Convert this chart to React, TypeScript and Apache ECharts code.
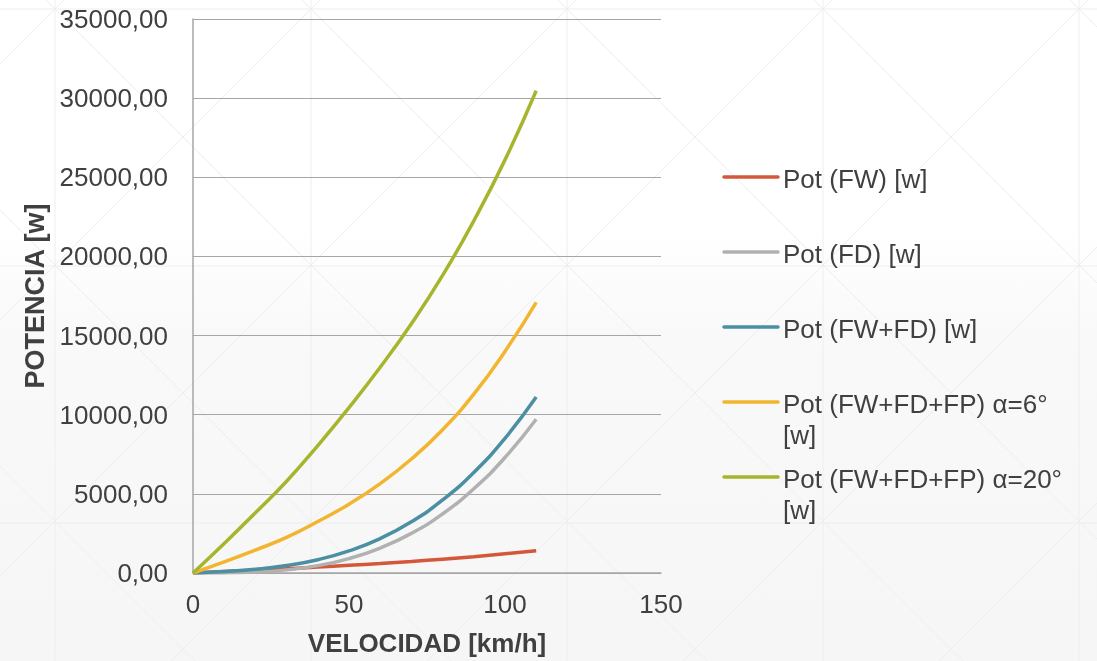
import React, { useEffect, useRef } from "react";
import * as echarts from "echarts";

const speed = [0, 10, 20, 30, 40, 50, 60, 70, 80, 90, 100, 110];
const potFW = [0, 90, 180, 275, 375, 485, 600, 730, 875, 1030, 1210, 1400];
const potFD = [0, 7, 58, 197, 467, 912, 1577, 2504, 3738, 5322, 7300, 9713];
const potFWFD = [0, 97, 238, 472, 842, 1397, 2177, 3234, 4613, 6352, 8510, 11113];
const potA6 = [0, 700, 1450, 2250, 3250, 4350, 5650, 7200, 9050, 11300, 14000, 17100];
const potA20 = [0, 1870, 3800, 5800, 8050, 10450, 13000, 15750, 18800, 22250, 26100, 30470];

const seriesNames = [
  "Pot (FW) [w]",
  "Pot (FD) [w]",
  "Pot (FW+FD) [w]",
  "Pot (FW+FD+FP) α=6° [w]",
  "Pot (FW+FD+FP) α=20° [w]",
];
const seriesValues = [potFW, potFD, potFWFD, potA6, potA20];
const seriesColors = ["#D4573A", "#B1B1B1", "#4B8FA2", "#F2B530", "#A7B52C"];

const FONT = "'Liberation Sans', Arial, sans-serif";
const TEXT_COLOR = "#404040";

function buildBackground(W: number, H: number) {
  const els: any[] = [];
  els.push({
    type: "rect",
    z: -100,
    silent: true,
    shape: { x: 0, y: 0, width: W, height: H },
    style: {
      fill: {
        type: "linear",
        x: 0,
        y: 0,
        x2: 0,
        y2: 1,
        colorStops: [
          { offset: 0, color: "#ffffff" },
          { offset: 0.35, color: "#ffffff" },
          { offset: 0.5, color: "#f9f9f9" },
          { offset: 1, color: "#f6f6f6" },
        ],
      },
    },
  });
  const patColor = "#eeeeee";
  const vx = [55, 311, 567, 823, 1079];
  const hy = [9, 266, 523];
  vx.forEach((x) =>
    els.push({
      type: "line",
      z: -99,
      silent: true,
      shape: { x1: x, y1: 0, x2: x, y2: H },
      style: { stroke: patColor, lineWidth: 1 },
    })
  );
  hy.forEach((y) =>
    els.push({
      type: "line",
      z: -99,
      silent: true,
      shape: { x1: 0, y1: y, x2: W, y2: y },
      style: { stroke: patColor, lineWidth: 1 },
    })
  );
  for (let k = -4; k <= 6; k++) {
    const c = 55 + 256 * k;
    els.push({
      type: "line",
      z: -99,
      silent: true,
      shape: { x1: c - 1200, y1: 9 - 1200, x2: c + 1200, y2: 9 + 1200 },
      style: { stroke: patColor, lineWidth: 1 },
    });
    els.push({
      type: "line",
      z: -99,
      silent: true,
      shape: { x1: c - 1200, y1: 9 + 1200, x2: c + 1200, y2: 9 - 1200 },
      style: { stroke: patColor, lineWidth: 1 },
    });
  }
  return els;
}

function buildLegend() {
  const els: any[] = [];
  const x0 = 724;
  const lineLen = 54;
  const y0 = 177;
  const step = 75;
  seriesNames.forEach((name, i) => {
    const y = y0 + i * step;
    els.push({
      type: "line",
      silent: true,
      shape: { x1: x0, y1: y, x2: x0 + lineLen, y2: y },
      style: { stroke: seriesColors[i], lineWidth: 3.5, lineCap: "round" },
    });
    const label = name.length > 18 ? name.replace(/ \[w\]$/, "\n[w]") : name;
    els.push({
      type: "text",
      silent: true,
      x: x0 + lineLen + 5,
      y: y - 14,
      style: {
        text: label,
        fill: TEXT_COLOR,
        font: `26px ${FONT}`,
        lineHeight: 31,
        verticalAlign: "top",
        align: "left",
      },
    });
  });
  return els;
}

export default function App() {
  const ref = useRef<HTMLDivElement>(null);
  useEffect(() => {
    if (!ref.current) return;
    const chart = echarts.init(ref.current, undefined, { renderer: "svg" });
    const W = 1097;
    const H = 661;
    chart.setOption({
      animation: false,
      textStyle: { fontFamily: FONT },
      grid: { left: 193, top: 19, right: 436, bottom: 86, containLabel: false },
      xAxis: {
        type: "value",
        min: 0,
        max: 150,
        interval: 50,
        name: "VELOCIDAD [km/h]",
        nameLocation: "middle",
        nameGap: 57,
        nameTextStyle: { fontSize: 26, fontWeight: "bold", color: TEXT_COLOR, fontFamily: FONT },
        axisLine: { show: true, lineStyle: { color: "#a6a6a6", width: 1.5 } },
        axisTick: { show: false },
        splitLine: { show: false },
        axisLabel: { fontSize: 26, color: TEXT_COLOR, margin: 18, fontFamily: FONT },
      },
      yAxis: {
        type: "value",
        min: 0,
        max: 35000,
        interval: 5000,
        name: "POTENCIA [w]",
        nameLocation: "middle",
        nameGap: 145,
        nameTextStyle: { fontSize: 27, fontWeight: "bold", color: TEXT_COLOR, fontFamily: FONT },
        axisLine: { show: true, lineStyle: { color: "#a6a6a6", width: 1.5 } },
        axisTick: { show: false },
        splitLine: { show: true, lineStyle: { color: "#a6a6a6", width: 1 } },
        axisLabel: {
          fontSize: 26,
          color: TEXT_COLOR,
          margin: 25,
          fontFamily: FONT,
          formatter: (v: number) => v.toFixed(2).replace(".", ","),
        },
      },
      series: seriesNames.map((name, i) => ({
        name,
        type: "line",
        smooth: true,
        symbol: "none",
        lineStyle: { color: seriesColors[i], width: 3.5 },
        itemStyle: { color: seriesColors[i] },
        data: speed.map((s, j) => [s, seriesValues[i][j]]),
        z: 3,
      })),
      graphic: [...buildBackground(W, H), ...buildLegend()],
    });
    return () => chart.dispose();
  }, []);
  return (
    <div
      ref={ref}
      style={{ position: "fixed", left: 0, top: 0, width: 1097, height: 661 }}
    />
  );
}
